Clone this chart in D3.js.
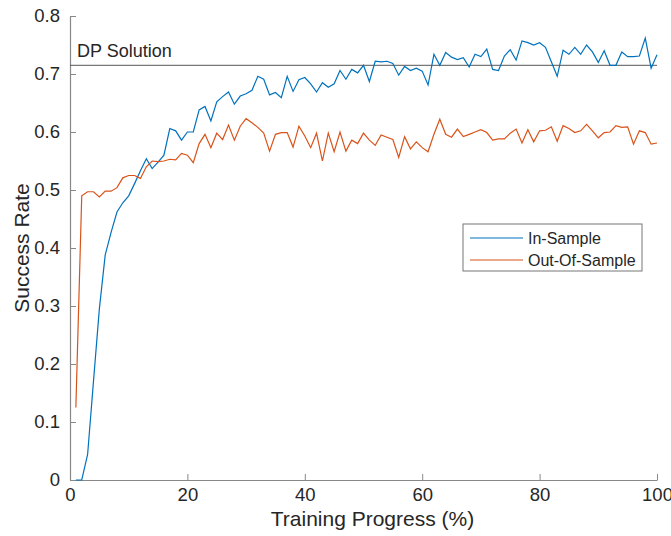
<!DOCTYPE html>
<html>
<head>
<meta charset="utf-8">
<script src="https://cdn.jsdelivr.net/npm/d3@7"></script>
<style>
  body { margin: 0; background: #fff; }
  text { font-family: "Liberation Sans", Arial, sans-serif; }
</style>
</head>
<body>
<div id="chart"></div>
<script>
// training progress (%) and success rates
var progress = d3.range(1, 101);
var inSample = [
  0, 0, 0.044, 0.17, 0.295, 0.388, 0.427, 0.462, 0.478, 0.49,
  0.511, 0.533, 0.554, 0.537, 0.548, 0.56, 0.606, 0.602, 0.586, 0.6,
  0.6, 0.638, 0.644, 0.619, 0.652, 0.661, 0.669, 0.648, 0.662, 0.666,
  0.672, 0.696, 0.691, 0.664, 0.668, 0.659, 0.696, 0.67, 0.69, 0.694,
  0.683, 0.669, 0.685, 0.677, 0.683, 0.706, 0.691, 0.708, 0.702, 0.715,
  0.687, 0.722, 0.721, 0.722, 0.718, 0.698, 0.713, 0.706, 0.71, 0.705,
  0.681, 0.734, 0.715, 0.737, 0.729, 0.725, 0.728, 0.712, 0.734, 0.73,
  0.743, 0.708, 0.706, 0.731, 0.742, 0.724, 0.757, 0.754, 0.75, 0.754,
  0.746, 0.721, 0.696, 0.741, 0.734, 0.746, 0.734, 0.75, 0.738, 0.72,
  0.74, 0.715, 0.715, 0.738, 0.73, 0.73, 0.731, 0.762, 0.71, 0.733
];
var outSample = [
  0.125, 0.49, 0.497, 0.497, 0.488, 0.498, 0.498, 0.504, 0.521, 0.525,
  0.525, 0.52, 0.54, 0.55, 0.549, 0.55, 0.553, 0.552, 0.563, 0.56,
  0.547, 0.58, 0.596, 0.573, 0.598, 0.587, 0.612, 0.586, 0.61, 0.623,
  0.616, 0.608, 0.598, 0.567, 0.596, 0.599, 0.599, 0.574, 0.61, 0.593,
  0.573, 0.598, 0.55, 0.598, 0.566, 0.6, 0.567, 0.586, 0.58, 0.598,
  0.586, 0.577, 0.595, 0.591, 0.587, 0.556, 0.592, 0.571, 0.583, 0.573,
  0.566, 0.596, 0.622, 0.596, 0.591, 0.605, 0.592, 0.596, 0.6, 0.604,
  0.599, 0.586, 0.588, 0.588, 0.598, 0.605, 0.581, 0.604, 0.583, 0.602,
  0.603, 0.609, 0.584, 0.611, 0.606, 0.599, 0.602, 0.613, 0.602, 0.59,
  0.599, 0.6, 0.611, 0.608, 0.609, 0.579, 0.602, 0.599, 0.579, 0.581
];
var dpSolution = 0.715;
var xTicks = [0, 20, 40, 60, 80, 100];
var yTicks = [0, 0.1, 0.2, 0.3, 0.4, 0.5, 0.6, 0.7, 0.8];
var seriesNames = ["In-Sample", "Out-Of-Sample"];
var seriesColors = ["#0072BD", "#D95319"];

var w = 671, h = 536
    , marginTop = 16, marginBottom = 56, marginLeft = 70, marginRight = 14
    , contentsWidth = w - marginLeft - marginRight, contentsHeight = h - marginTop - marginBottom;

var svg = d3.select("div#chart")
    .append("svg")
    .attr("width", w)
    .attr("height", h);

var chartG = svg.append("g")
    .attr("transform", "translate(" + marginLeft + ", " + marginTop + ")");

var xScale = d3.scaleLinear().domain([0, 100]).range([0, contentsWidth]);
var yScale = d3.scaleLinear().domain([0, 0.8]).range([contentsHeight, 0]);

var xAxis = d3.axisBottom(xScale).tickValues(xTicks).tickSizeInner(-6).tickSizeOuter(0).tickPadding(8);
var yAxis = d3.axisLeft(yScale).tickValues(yTicks).tickSizeInner(-6).tickSizeOuter(0).tickPadding(10)
    .tickFormat(function(d) { return d === 0 ? "0" : d3.format(".1f")(d); });

var gx = chartG.append("g")
    .attr("class", "x axis")
    .attr("transform", "translate(0, " + contentsHeight + ")")
    .call(xAxis);
var gy = chartG.append("g")
    .attr("class", "y axis")
    .call(yAxis);

[gx, gy].forEach(function(g) {
  g.select(".domain").attr("stroke", "#888").attr("stroke-width", 1.2);
  g.selectAll(".tick line").attr("stroke", "#888");
  g.selectAll(".tick text").attr("fill", "#262626").style("font-size", "18.5px");
});

// DP solution reference line
chartG.append("line")
    .attr("x1", xScale(0)).attr("x2", xScale(100))
    .attr("y1", yScale(dpSolution)).attr("y2", yScale(dpSolution))
    .attr("stroke", "#555")
    .attr("stroke-width", 1);
chartG.append("text")
    .attr("x", xScale(1.2))
    .attr("y", yScale(dpSolution) - 8)
    .attr("fill", "#262626")
    .style("font-size", "18px")
    .text("DP Solution");

var line = d3.line()
    .x(function(d, i) { return xScale(progress[i]); })
    .y(function(d) { return yScale(d); });

[inSample, outSample].forEach(function(s, k) {
  chartG.append("path")
      .datum(s)
      .attr("fill", "none")
      .attr("stroke", seriesColors[k])
      .attr("stroke-width", 1.2)
      .attr("d", line);
});

// axis labels
svg.append("text")
    .attr("x", marginLeft + contentsWidth / 2 + 9)
    .attr("y", 526)
    .attr("text-anchor", "middle")
    .attr("fill", "#262626")
    .style("font-size", "21px")
    .text("Training Progress (%)");
svg.append("text")
    .attr("transform", "translate(29, " + (marginTop + contentsHeight / 2) + ") rotate(-90)")
    .attr("text-anchor", "middle")
    .attr("fill", "#262626")
    .style("font-size", "21px")
    .text("Success Rate");

// legend
var legend = svg.append("g").attr("transform", "translate(463, 224)");
legend.append("rect")
    .attr("width", 179).attr("height", 47)
    .attr("fill", "#fff")
    .attr("stroke", "#777")
    .attr("stroke-width", 1);
seriesNames.forEach(function(name, k) {
  var yy = 14 + k * 22;
  legend.append("line")
      .attr("x1", 7).attr("x2", 60)
      .attr("y1", yy).attr("y2", yy)
      .attr("stroke", seriesColors[k])
      .attr("stroke-width", 1.2);
  legend.append("text")
      .attr("x", 65).attr("y", yy + 6)
      .attr("fill", "#262626")
      .style("font-size", "16px")
      .text(name);
});
</script>
</body>
</html>
